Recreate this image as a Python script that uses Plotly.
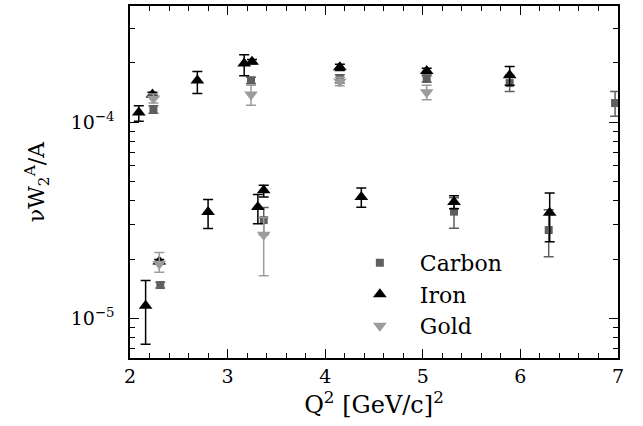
import plotly.graph_objects as go

# ---- data ----
carbon_q = [2.24, 2.31, 3.24, 3.37, 4.15, 5.04, 5.32, 5.89, 6.29, 6.97]
carbon_v = [1.16e-4, 1.48e-5, 1.63e-4, 3.17e-5, 1.66e-4, 1.66e-4, 3.5e-5, 1.58e-4, 2.82e-5, 1.25e-4]
carbon_up = [0.05e-4, 0.05e-5, 0.06e-4, 0.5e-5, 0.08e-4, 0.06e-4, 0.62e-5, 0.15e-4, 0.76e-5, 0.18e-4]
carbon_dn = [0.05e-4, 0.05e-5, 0.06e-4, 0.5e-5, 0.08e-4, 0.06e-4, 0.62e-5, 0.15e-4, 0.76e-5, 0.18e-4]

iron_q = [2.09, 2.16, 2.23, 2.30, 2.69, 2.80, 3.17, 3.25, 3.31, 3.37, 4.15, 4.37, 5.04, 5.32, 5.89, 6.30]
iron_v = [1.12e-4, 1.16e-5, 1.38e-4, 1.95e-5, 1.63e-4, 3.49e-5, 1.99e-4, 2.03e-4, 3.7e-5, 4.5e-5,
          1.9e-4, 4.15e-5, 1.82e-4, 3.92e-5, 1.73e-4, 3.46e-5]
iron_up = [0.09e-4, 0.40e-5, 0.04e-4, 0.05e-5, 0.18e-4, 0.54e-5, 0.21e-4, 0.05e-4, 0.58e-5, 0.27e-5,
           0.07e-4, 0.47e-5, 0.06e-4, 0.3e-5, 0.19e-4, 0.9e-5]
iron_dn = [0.11e-4, 0.42e-5, 0.04e-4, 0.05e-5, 0.23e-4, 0.62e-5, 0.27e-4, 0.05e-4, 0.66e-5, 0.34e-5,
           0.07e-4, 0.47e-5, 0.06e-4, 0.3e-5, 0.19e-4, 1.0e-5]

gold_q = [2.24, 2.30, 3.24, 3.37, 4.15, 5.04]
gold_v = [1.32e-4, 1.9e-5, 1.38e-4, 2.67e-5, 1.61e-4, 1.42e-4]
gold_up = [0.07e-4, 0.27e-5, 0.16e-4, 0.6e-5, 0.08e-4, 0.12e-4]
gold_dn = [0.07e-4, 0.18e-5, 0.16e-4, 1.02e-5, 0.08e-4, 0.12e-4]

x_ticks = [2, 3, 4, 5, 6, 7]
x_minor = [round(2 + 0.2 * i, 1) for i in range(26)]
y_ticks = [1e-5, 1e-4]
y_ticktext = ["10<sup>−5</sup>", "10<sup>−4</sup>"]
y_minor = [7e-6, 8e-6, 9e-6, 2e-5, 3e-5, 4e-5, 5e-5, 6e-5, 7e-5, 8e-5, 9e-5, 2e-4, 3e-4]

FONT = "DejaVu Serif"

fig = go.Figure()

def add(name, q, v, up, dn, color, symbol, size):
    fig.add_trace(go.Scatter(
        x=q, y=v, mode="markers", name=name,
        marker=dict(color=color, symbol=symbol, size=size, line=dict(width=0)),
        error_y=dict(type="data", array=up, arrayminus=dn, color=color,
                     thickness=1.5, width=5, symmetric=False),
    ))

add("Carbon", carbon_q, carbon_v, carbon_up, carbon_dn, "#5f5f5f", "square", 8)
add("Iron", iron_q, iron_v, iron_up, iron_dn, "#000000", "triangle-up", 12)
add("Gold", gold_q, gold_v, gold_up, gold_dn, "#9c9c9c", "triangle-down", 12)

axis_common = dict(
    showline=True, linecolor="black", linewidth=1.5, mirror="ticks",
    ticks="inside", ticklen=9, tickwidth=1.2, tickcolor="black",
    showgrid=False, zeroline=False,
    tickfont=dict(family=FONT, size=19, color="black"),
)

fig.update_layout(
    width=643, height=426,
    margin=dict(l=130, r=25, t=4, b=68),
    paper_bgcolor="white", plot_bgcolor="white",
    font=dict(family=FONT, color="black"),
    xaxis=dict(
        range=[2, 7], tickmode="array", tickvals=x_ticks,
        minor=dict(tickmode="array", tickvals=x_minor, ticks="inside", ticklen=5,
                   tickwidth=1, tickcolor="black"),
        title=dict(text="Q<sup>2</sup> [GeV/c]<sup>2</sup>", font=dict(family=FONT, size=24), standoff=0),
        **axis_common,
    ),
    yaxis=dict(
        type="log", range=[-5.201, -3.409],
        tickmode="array", tickvals=y_ticks, ticktext=y_ticktext,
        ticklabelstandoff=10,
        minor=dict(tickmode="array", tickvals=y_minor, ticks="inside", ticklen=5,
                   tickwidth=1, tickcolor="black"),
        title=dict(text="νW<sub>2</sub><sup>A</sup>/A", font=dict(family=FONT, size=22), standoff=20),
        **axis_common,
    ),
    legend=dict(
        x=0.43, y=0.33, xanchor="left", yanchor="top",
        bgcolor="rgba(0,0,0,0)", borderwidth=0,
        font=dict(family=FONT, size=22, color="black"),
        itemwidth=70, tracegroupgap=0,
    ),
    showlegend=True,
)

fig.write_html("out.html")
